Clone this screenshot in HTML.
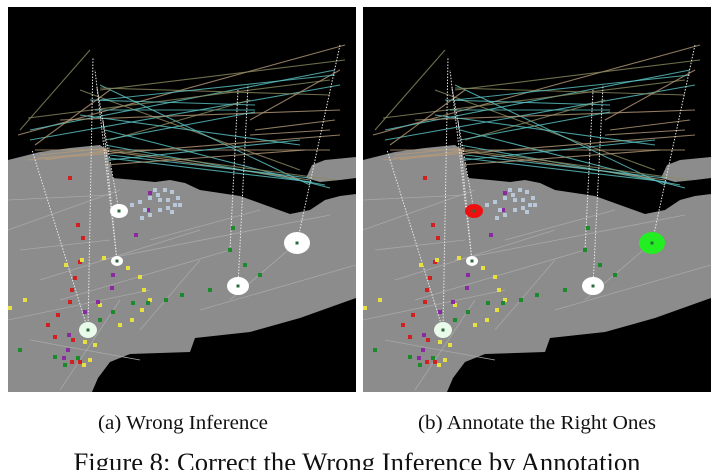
<!DOCTYPE html>
<html><head><meta charset="utf-8">
<style>
html,body{margin:0;padding:0;background:#fff;width:715px;height:470px;overflow:hidden}
svg{display:block}
.cap{font-family:"Liberation Serif",serif;fill:#111}
</style></head>
<body>
<svg id="fig" width="715" height="470" viewBox="0 0 715 470">
<defs>
<clipPath id="clipA"><rect x="8" y="7" width="348" height="385"/></clipPath>
</defs>
<g id="panelA" clip-path="url(#clipA)"></g>
<g id="panelB" transform="translate(355,0)" clip-path="url(#clipA)"></g>
<text class="cap" x="183" y="429" font-size="20" text-anchor="middle" textLength="170" lengthAdjust="spacingAndGlyphs">(a) Wrong Inference</text>
<text class="cap" x="537" y="429" font-size="20" text-anchor="middle" textLength="238" lengthAdjust="spacingAndGlyphs">(b) Annotate the Right Ones</text>
<text class="cap" x="357" y="471" font-size="26" text-anchor="middle" textLength="567" lengthAdjust="spacingAndGlyphs">Figure 8: Correct the Wrong Inference by Annotation</text>
</svg>
<script>
const NS='http://www.w3.org/2000/svg';
const landPts="8,160 40,152 70,148 100,145 107,150 110,165 113,178 135,180 155,182 170,180 185,183 200,190 240,196 265,205 290,214 310,210 325,200 340,196 356,194 356,298 300,318 250,332 195,338 190,352 130,354 110,362 98,378 92,392 8,392";
const blobPts="306,178 312,165 325,160 356,157 356,178 340,180 320,182";
const roads=[[8,200,110,195],[8,230,120,190],[40,280,200,230],[8,320,150,290],[100,260,330,215],[60,300,230,250],[140,330,200,260],[200,310,356,265],[20,250,110,240],[150,240,260,210],[230,300,300,240],[60,390,120,300],[30,340,140,360]];
const flows=[[18,135,345,45,0],[30,130,335,70,1],[30,140,340,85,1],[28,118,330,80,2],[35,150,330,150,0],[80,90,300,170,2],[100,85,310,185,1],[105,130,330,188,1],[105,145,325,185,1],[100,150,310,180,0],[90,100,255,105,1],[95,110,255,110,1],[110,140,250,100,2],[28,160,340,135,0],[100,88,330,95,2],[60,120,340,110,0],[110,150,335,180,2],[35,145,110,90,0],[20,130,90,50,2],[110,160,300,140,1],[45,160,110,150,0],[250,120,340,70,0],[255,130,335,120,0],[100,90,345,60,2],[80,115,300,145,1],[110,155,310,178,1],[108,158,312,182,1],[105,140,255,112,1],[100,100,335,75,1],[40,155,110,148,0],[38,158,108,152,0],[105,165,305,150,0],[250,135,330,130,0]];
const flowColors=['#b59a78','#5cc4c4','#8a8a60'];
const dots=[[70,178,0],[78,225,0],[83,238,0],[80,262,0],[75,278,0],[72,290,0],[70,302,0],[58,315,0],[48,325,0],[55,337,0],[73,340,0],[72,362,0],[80,362,0],
[66,265,1],[82,260,1],[104,258,1],[128,268,1],[140,277,1],[144,290,1],[150,300,1],[142,310,1],[120,325,1],[132,320,1],[100,305,1],[25,300,1],[10,308,1],[85,342,1],[95,345,1],[90,360,1],[84,365,1],
[148,210,2],[136,235,2],[113,275,2],[112,288,2],[98,302,2],[85,312,2],[69,335,2],[68,350,2],[64,358,2],[150,193,2],
[233,228,3],[230,250,3],[245,265,3],[260,275,3],[210,290,3],[182,295,3],[166,300,3],[148,303,3],[133,303,3],[113,312,3],[100,320,3],[20,350,3],[55,357,3],[65,365,3],[78,358,3],
[132,205,4],[140,202,4],[150,198,4],[158,195,4],[165,190,4],[172,192,4],[178,198,4],[175,205,4],[168,208,4],[160,210,4],[150,215,4],[142,218,4],[160,200,4],[168,200,4],[155,190,4],[145,210,4],[172,212,4],[180,205,4]];
const dotColors=['#d02020','#e8e040','#8a2aa0','#1a8a2a','#b8c8d8'];
const links=[[88,330,32,150],[88,330,93,57],[117,261,103,120],[119,211,97,88],[238,286,248,85],[297,243,340,45],[230,250,238,90],[117,261,95,70]];
const regions=[[119,211,9,7,'#ffffff','#ee1010'],[117,261,6,5,'#ffffff','#ffffff'],[88,330,9,8,'#eafaea','#eafaea'],[238,286,11,9,'#ffffff','#ffffff'],[297,243,13,11,'#ffffff','#22ee22']];

function mk(tag,attrs,parent){const e=document.createElementNS(NS,tag);for(const k in attrs)e.setAttribute(k,attrs[k]);parent.appendChild(e);return e;}

function drawPanel(g,variant){
  const bg=mk('rect',{x:8,y:7,width:348,height:385,fill:'#000'},g);
  
  
  const land=mk('polygon',{points:landPts,fill:'#8c8c8c'},g);
  
  
  const blob=mk('polygon',{points:blobPts,fill:'#8c8c8c'},g);
  
  
  roads.forEach(r=>{
    const l=mk('line',{x1:r[0],y1:r[1],x2:r[2],y2:r[3],stroke:'#a8a8a8','stroke-width':0.8},g);
    
    
  });
  flows.forEach(f=>{
    const l=mk('line',{x1:f[0],y1:f[1],x2:f[2],y2:f[3],stroke:flowColors[f[4]],'stroke-width':1.1,opacity:0.8},g);
    
    
  });
  links.forEach(k=>{
    const l=mk('line',{x1:k[0],y1:k[1],x2:k[2],y2:k[3],stroke:'#e8e8e8','stroke-width':1,'stroke-dasharray':'1.5 1.5'},g);
    
    
  });
  dots.forEach(d=>{
    const r=mk('rect',{x:d[0]-2,y:d[1]-2,width:4,height:4,fill:dotColors[d[2]]},g);
    
    
  });
  regions.forEach(c=>{
    const e=mk('ellipse',{cx:c[0],cy:c[1],rx:c[2],ry:c[3],fill:variant?c[5]:c[4]},g);
    
    
    const m=mk('rect',{x:c[0]-1.5,y:c[1]-1.5,width:3,height:3,fill:'#2a6a3a'},g);
    
    
  });
}
drawPanel(document.getElementById('panelA'),0);
drawPanel(document.getElementById('panelB'),1);
</script>
</body></html>
